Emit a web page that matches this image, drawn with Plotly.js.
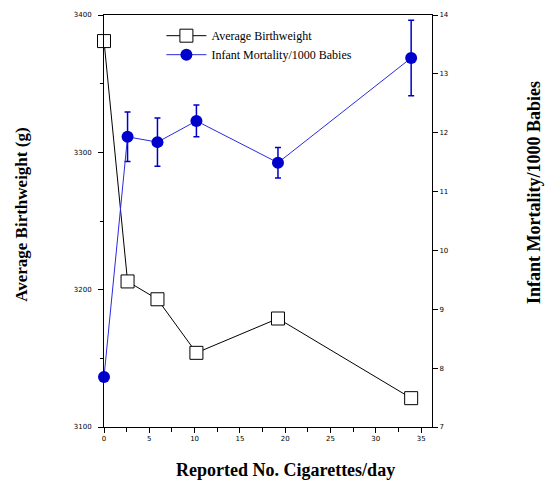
<!DOCTYPE html>
<html><head><meta charset="utf-8">
<script src="https://cdn.plot.ly/plotly-3.0.1.min.js"></script>
<style>html,body{margin:0;padding:0;background:#fff}#chart{width:545px;height:482px}</style>
</head><body><div id="chart"></div>
<script>
const cigs = [0, 2.6, 5.9, 10.2, 19.2, 33.9];
const birthweight = [3381, 3206, 3193, 3154, 3179, 3121];
const mortality = [7.85, 11.93, 11.84, 12.2, 11.49, 13.27];
const mortalityErr = [0, 0.42, 0.41, 0.27, 0.26, 0.64];
const xTicks = [0, 5, 10, 15, 20, 25, 30, 35];
const y1Ticks = [3100, 3200, 3300, 3400];
const y2Ticks = [7, 8, 9, 10, 11, 12, 13, 14];

const tickFont = {family: 'DejaVu Sans', size: 7, color: '#000'};
const serif = 'Liberation Serif, Times New Roman, serif';

const traces = [
  {x: cigs, y: birthweight, name: 'Average Birthweight', type: 'scatter', mode: 'lines+markers',
   line: {color: '#000', width: 1}, marker: {symbol: 'square', size: 13, color: '#fff', line: {color: '#000', width: 1}}, cliponaxis: false},
  {x: cigs, y: mortality, name: 'Infant Mortality/1000 Babies', type: 'scatter', mode: 'lines+markers', yaxis: 'y2',
   line: {color: '#2a2ae0', width: 1}, marker: {symbol: 'circle', size: 12, color: '#0000cc'},
   error_y: {type: 'data', array: mortalityErr, visible: true, color: '#0000cc', thickness: 1.5, width: 3}, cliponaxis: false}
];

const layout = {
  width: 545, height: 482,
  margin: {l: 104, r: 113, t: 15, b: 55},
  paper_bgcolor: '#fff', plot_bgcolor: '#fff',
  showlegend: true,
  legend: {x: 0.175, y: 0.985, xanchor: 'left', yanchor: 'top', bgcolor: 'rgba(0,0,0,0)',
           font: {family: serif, size: 12, color: '#000'}, tracegroupgap: 0, itemwidth: 40},
  xaxis: {range: [0, 36.2], tickvals: xTicks, ticktext: xTicks.map(String), showgrid: false, zeroline: false,
          showline: true, linecolor: '#000', linewidth: 1, mirror: true, ticks: 'outside', ticklen: 5, tickcolor: '#000',
          tickfont: tickFont, minor: {dtick: 2.5, ticks: 'outside', ticklen: 4, tickcolor: '#000', showgrid: false}},
  yaxis: {range: [3100, 3400], tickvals: y1Ticks, ticktext: y1Ticks.map(String), showgrid: false, zeroline: false,
          showline: true, linecolor: '#000', linewidth: 1, ticks: 'outside', ticklen: 5, tickcolor: '#000',
          ticklabelstandoff: 5,
          tickfont: tickFont, minor: {dtick: 50, ticks: 'outside', ticklen: 3, tickcolor: '#000', showgrid: false}},
  yaxis2: {range: [7, 14], overlaying: 'y', side: 'right', tickvals: y2Ticks, ticktext: y2Ticks.map(String),
           showgrid: false, zeroline: false, showline: true, linecolor: '#000', linewidth: 1,
           ticks: 'outside', ticklen: 5, tickcolor: '#000', tickfont: tickFont},
  annotations: [
    {text: '<b>Average Birthweight (g)</b>', xref: 'paper', yref: 'paper', x: -0.25, y: 0.515, xanchor: 'center', yanchor: 'middle',
     textangle: -90, showarrow: false, font: {family: serif, size: 17, color: '#000'}},
    {text: '<b>Infant Mortality/1000 Babies</b>', xref: 'paper', yref: 'paper', x: 1.309, y: 0.569, xanchor: 'center', yanchor: 'middle',
     textangle: -90, showarrow: false, font: {family: serif, size: 18, color: '#000'}},
    {text: '<b>Reported No. Cigarettes/day</b>', xref: 'paper', yref: 'paper', x: 0.552, y: -0.104, xanchor: 'center', yanchor: 'middle',
     showarrow: false, font: {family: serif, size: 18, color: '#000'}}
  ]
};
Plotly.newPlot('chart', traces, layout, {displayModeBar: false, staticPlot: true});
</script></body></html>
